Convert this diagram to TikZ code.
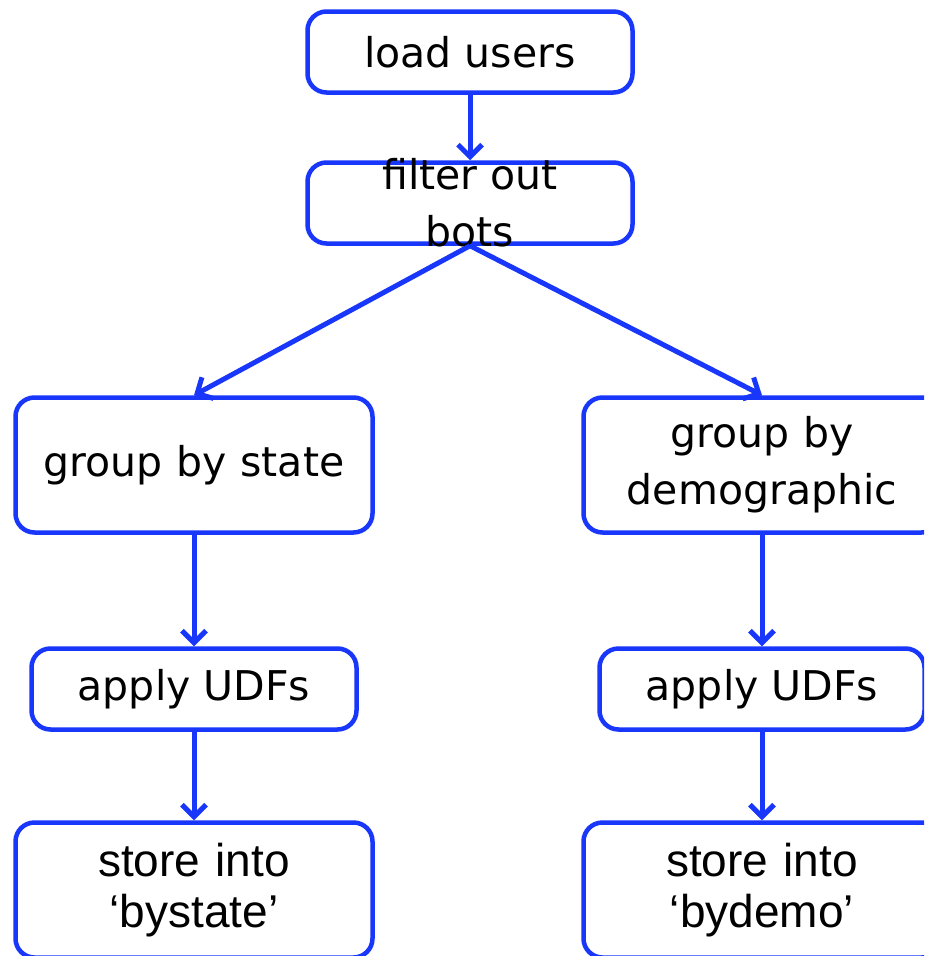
\documentclass[tikz,border=0pt]{standalone}
\usepackage{fontspec}
\setmainfont{DejaVu Sans}
\newfontfamily\arialfont{Liberation Sans}
\usetikzlibrary{arrows.meta}
\definecolor{flowblue}{RGB}{25,55,250}
\begin{document}
\begin{tikzpicture}[
  x=1pt, y=1pt,
  every node/.style={draw=flowblue,line width=4.5pt,rounded corners=19pt,fill=white,
    align=center,inner xsep=8pt,font=\fontsize{41}{57}\selectfont},
  small/.style={minimum width=325pt,minimum height=81pt},
  wide/.style={minimum width=357pt,minimum height=135pt,text width=310pt},
  store/.style={wide,font=\arialfont\fontsize{46}{51}\selectfont},
  edge from parent/.style={draw=flowblue,line width=5pt,
    -{Straight Barb[length=12pt,width=24pt]}},
  edge from parent path={(\tikzparentnode.south) -- (\tikzchildnode.north)},
  level 1/.style={level distance=151pt},
  level 2/.style={level distance=262pt,sibling distance=568pt},
  level 3/.style={level distance=224pt},
  level 4/.style={level distance=201pt}
]
  \useasboundingbox (0,0) rectangle (924,-956);
  \clip (0,0) rectangle (924,-956);
  \node[small] (load) at (470,-52) {load users}
    child { node[small,inner ysep=-8pt] (filter) {filter out\\bots}
      child[xshift=8pt] { node[wide] (bystate) {group by state}
        child { node[small] (udfstate) {apply UDFs}
          child { node[store] (storestate) {store into\\‘bystate’} }
        }
      }
      child[xshift=8pt] { node[wide] (bydemo) {group by demographic}
        child { node[small] (udfdemo) {apply UDFs}
          child { node[store] (storedemo) {store into\\‘bydemo’} }
        }
      }
    };
\end{tikzpicture}
\end{document}
